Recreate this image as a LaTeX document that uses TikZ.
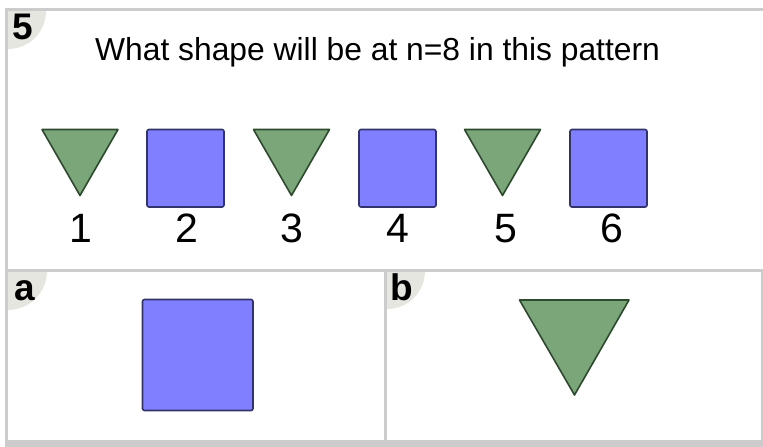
\documentclass[tikz,border=0pt]{standalone}
\usepackage{fontspec}
\setmainfont{Liberation Sans}
\definecolor{frame}{HTML}{CCCCCC}
\definecolor{badge}{HTML}{E6E6E0}
\definecolor{trifill}{HTML}{7AA67A}
\definecolor{tridraw}{HTML}{2E4A2E}
\definecolor{sqfill}{HTML}{7F7FFF}
\definecolor{sqdraw}{HTML}{33336B}
\tikzset{
  tri/.style={fill=trifill,draw=tridraw,line width=1.6pt,line join=round},
  sq/.style={fill=sqfill,draw=sqdraw,line width=1.6pt,rounded corners=2pt},
  num/.style={font=\fontsize{41}{44}\selectfont,anchor=base,inner sep=0},
  lab/.style={font=\fontsize{37}{40}\selectfont\bfseries,anchor=base west,inner sep=0},
  border/.style={draw=frame,line width=3pt}
}
\begin{document}
\begin{tikzpicture}[x=1pt,y=-1pt]
\useasboundingbox (0,0) rectangle (763,447);
\fill[white] (0,0) rectangle (763,447);
% badges
\begin{scope}
\clip (8,11) rectangle (763,269);
\fill[badge] (8,11) circle (38);
\end{scope}
\begin{scope}
\clip (8,271) rectangle (384,440);
\fill[badge] (8,271) circle (39);
\end{scope}
\begin{scope}
\clip (387,271) rectangle (761,440);
\fill[badge] (387,271) circle (38);
\end{scope}
% borders
\draw[border] (5,9.5) -- (763,9.5);
\draw[border] (6.5,8) -- (6.5,447);
\draw[border] (5,270) -- (763,270);
\draw[border] (385.5,270) -- (385.5,441);
\draw[border] (762,270) -- (762,441);
\fill[frame] (5,440) rectangle (763,447);
% labels
\node[lab] (l5) at (12,39) {5};
\node[lab] (la) at (14,300) {a};
\node[lab] (lb) at (390,300) {b};
\node[font=\fontsize{31.8}{34}\selectfont,anchor=base west,inner sep=0] (q) at (95,60) {What shape will be at n=8 in this pattern};
% sequence
\foreach \i/\cx in {1/80,3/291.5,5/502.5}{
  \draw[tri] (\cx-38,129.5) -- (\cx+38,129.5) -- (\cx,195.5) -- cycle;
}
\foreach \i/\cx in {2/185.5,4/397.5,6/608.5}{
  \draw[sq] (\cx-38.5,129.5) rectangle (\cx+38.5,207);
}
\foreach \i/\cx in {1/81,2/187,3/292,4/398,5/506,6/612}{
  \node[num] (n\i) at (\cx,242.5) {\i};
}
% answers
\draw[sq] (142.5,299.5) rectangle (253,410.5);
\draw[tri] (519.5,300) -- (629,300) -- (574.5,395) -- cycle;
\end{tikzpicture}
\end{document}
